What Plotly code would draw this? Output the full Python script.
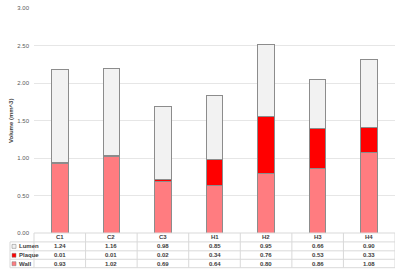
import plotly.graph_objects as go

categories = ["C1", "C2", "C3", "H1", "H2", "H3", "H4"]
lumen = [1.24, 1.16, 0.98, 0.85, 0.95, 0.66, 0.90]
plaque = [0.01, 0.01, 0.02, 0.34, 0.76, 0.53, 0.33]
wall = [0.93, 1.02, 0.69, 0.64, 0.80, 0.86, 1.08]
y_ticks = [0, 0.5, 1.0, 1.5, 2.0, 2.5, 3.0]

series = [("Wall", wall, "#FF7C80"), ("Plaque", plaque, "#FF0000"), ("Lumen", lumen, "#F2F2F2")]
table_rows = [("Lumen", lumen, "#F2F2F2"), ("Plaque", plaque, "#FF0000"), ("Wall", wall, "#FF7C80")]

W, H = 400, 272
L, R, T, B = 34, 5, 6, 39
plot_h = H - T - B
plot_w = W - L - R

def py(p):  # pixel y -> paper y
    return (H - B - p) / plot_h

def px(p):  # pixel x -> paper x
    return (p - L) / plot_w

fig = go.Figure()
for name, vals, col in series:
    fig.add_trace(go.Bar(
        x=categories, y=vals, name=name, width=0.32,
        marker=dict(color=col, line=dict(color="#8C8C8C", width=1)),
        showlegend=False, hoverinfo="y+name"))

font = "Liberation Sans"
shapes = []
annos = []
grid = "#D9D9D9"
# table lines
row_lines = [233, 242, 251, 259.5, 268]
for i, yy in enumerate(row_lines):
    x0 = 0 if i == 0 else px(10)
    shapes.append(dict(type="line", xref="paper", yref="paper", x0=x0, x1=1,
                       y0=py(yy), y1=py(yy), line=dict(color=grid, width=1)))
# vertical lines
shapes.append(dict(type="line", xref="paper", yref="paper", x0=0, x1=0,
                   y0=py(233), y1=py(268), line=dict(color=grid, width=1)))
shapes.append(dict(type="line", xref="paper", yref="paper", x0=px(10), x1=px(10),
                   y0=py(242), y1=py(268), line=dict(color=grid, width=1)))
for i in range(len(categories)):
    shapes.append(dict(type="line", xref="x", yref="paper", x0=i + 0.5, x1=i + 0.5,
                       y0=py(233), y1=py(268), line=dict(color=grid, width=1)))

txt_font = dict(size=6, color="#404040", family=font)
# header
for c in categories:
    annos.append(dict(x=c, y=py(237.5), xref="x", yref="paper", text="<b>%s</b>" % c,
                      xanchor="center", yanchor="middle", showarrow=False, font=txt_font))
row_centers = [246.5, 255.5, 264]
for (name, vals, col), yc in zip(table_rows, row_centers):
    for c, v in zip(categories, vals):
        annos.append(dict(x=c, y=py(yc), xref="x", yref="paper", text="<b>%.2f</b>" % v,
                          xanchor="center", yanchor="middle", showarrow=False, font=txt_font))
    shapes.append(dict(type="rect", xref="paper", yref="paper",
                       x0=px(12), x1=px(16), y0=py(yc + 2), y1=py(yc - 2),
                       fillcolor=col, line=dict(color="#7F7F7F", width=0.5)))
    annos.append(dict(x=px(17), y=py(yc), xref="paper", yref="paper", text="<b>%s</b>" % name,
                      xanchor="left", yanchor="middle", showarrow=False, font=txt_font))

annos.append(dict(x=px(11), y=py(120), xref="paper", yref="paper", text="<b>Volume (mm^3)</b>",
                  textangle=-90, xanchor="center", yanchor="middle", showarrow=False,
                  font=txt_font))

fig.update_layout(
    width=W, height=H, barmode="stack", bargap=0.68,
    margin=dict(l=L, r=R, t=T, b=B), paper_bgcolor="white", plot_bgcolor="white",
    xaxis=dict(showticklabels=False, showgrid=False, zeroline=False, showline=False,
               range=[-0.5, 6.5]),
    yaxis=dict(range=[0, 3.0], tickvals=y_ticks, ticktext=["%.2f" % t for t in y_ticks],
               showgrid=True, gridcolor="#E6E6E6", gridwidth=1, zeroline=False,
               tickfont=dict(size=6, color="#595959", family=font), ticks="",
               ticklabelstandoff=4),
    shapes=shapes, annotations=annos,
)
fig.write_html("out.html", config={"displayModeBar": False},
               post_script="document.body.style.margin='0';document.body.style.overflow='hidden';")
